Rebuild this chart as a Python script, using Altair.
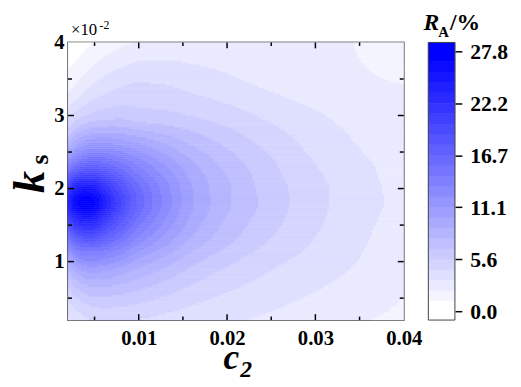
import altair as alt
import numpy as np
import pandas as pd

# ---- data ----
C2_NODES = [0.002, 0.003, 0.004, 0.005, 0.006, 0.008, 0.010, 0.013, 0.016, 0.020, 0.025, 0.030, 0.035, 0.040]
KS_NODES = [0.002, 0.006, 0.010, 0.013, 0.016, 0.018, 0.020, 0.023, 0.026, 0.030, 0.035, 0.040]

RA_KS002 = [3.2, 3.8, 4.2, 4.5, 4.6, 4.6, 4.4, 4.1, 3.8, 3.5, 3.1, 2.6, 2.3, 2.0]
RA_KS006 = [5.2, 6.3, 7.0, 7.3, 7.3, 7.0, 6.6, 5.9, 5.2, 4.5, 3.9, 3.35, 2.8, 2.3]
RA_KS010 = [9.0, 11.0, 12.0, 12.0, 11.8, 10.8, 9.6, 8.3, 7.0, 5.8, 4.7, 4.0, 3.3, 2.6]
RA_KS013 = [14.0, 17.0, 18.0, 18.0, 17.0, 15.0, 12.8, 10.6, 8.7, 7.0, 5.5, 4.4, 3.5, 2.8]
RA_KS016 = [20.0, 23.5, 24.5, 24.0, 22.0, 18.5, 15.5, 12.3, 9.8, 7.7, 6.0, 4.7, 3.7, 2.9]
RA_KS018 = [23.0, 26.5, 27.8, 26.8, 24.5, 20.0, 16.5, 13.0, 10.2, 8.0, 6.2, 4.8, 3.8, 3.0]
RA_KS020 = [20.5, 24.0, 25.0, 24.5, 22.5, 19.0, 16.0, 12.8, 10.1, 8.0, 6.1, 4.8, 3.75, 3.0]
RA_KS023 = [13.5, 16.0, 17.0, 17.2, 16.8, 15.2, 13.5, 11.3, 9.3, 7.5, 5.8, 4.5, 3.6, 2.9]
RA_KS026 = [8.3, 10.0, 11.0, 11.5, 11.5, 11.0, 10.2, 9.0, 7.8, 6.5, 5.2, 4.1, 3.3, 2.6]
RA_KS030 = [4.0, 5.0, 5.6, 6.0, 6.2, 6.4, 6.1, 5.9, 5.56, 5.0, 4.2, 3.5, 2.9, 2.4]
RA_KS035 = [1.5, 2.0, 2.6, 3.1, 3.5, 4.0, 4.3, 4.2, 3.9, 3.5, 3.0, 2.6, 2.3, 2.2]
RA_KS040 = [0.3, 0.6, 0.9, 1.2, 1.5, 2.0, 2.3, 2.6, 2.7, 2.7, 2.5, 2.4, 2.2, 2.0]

RA_GRID = [RA_KS002, RA_KS006, RA_KS010, RA_KS013, RA_KS016, RA_KS018,
           RA_KS020, RA_KS023, RA_KS026, RA_KS030, RA_KS035, RA_KS040]

X_LABEL_VALUES = [0.01, 0.02, 0.03, 0.04]
Y_LABEL_VALUES = [0.01, 0.02, 0.03, 0.04]
MAJOR_TICKS = [0.01, 0.02, 0.03]
MINOR_TICKS = [0.005, 0.015, 0.025, 0.035]
CBAR_TICKS = [0.0, 5.56, 11.12, 16.68, 22.24, 27.8]
RA_MAX = 27.8
N_LEVELS = 25

# ---- layout ----
W, H = 341, 282
DOM = [0.002, 0.04]
CB_X0, CB_X1 = 366, 393
CB_DOM = [-0.95, 28.75]
SERIF = "Liberation Serif"


# ---- filled-contour rendering of the grid (smooth piecewise-cubic surface) ----
def pchip(xn, yn, xq):
    xn = np.asarray(xn, float)
    yn = np.asarray(yn, float)
    h = np.diff(xn)
    d = np.diff(yn) / h
    n = len(xn)
    m = np.zeros(n)
    for k in range(1, n - 1):
        if d[k - 1] * d[k] > 0:
            w1 = 2 * h[k] + h[k - 1]
            w2 = h[k] + 2 * h[k - 1]
            m[k] = (w1 + w2) / (w1 / d[k - 1] + w2 / d[k])
    for k, (h0, h1, d0, d1) in ((0, (h[0], h[1], d[0], d[1])), (n - 1, (h[-1], h[-2], d[-1], d[-2]))):
        s = ((2 * h0 + h1) * d0 - h0 * d1) / (h0 + h1)
        if np.sign(s) != np.sign(d0):
            s = 0.0
        elif np.sign(d0) != np.sign(d1) and abs(s) > abs(3 * d0):
            s = 3 * d0
        m[k] = s
    idx = np.clip(np.searchsorted(xn, xq) - 1, 0, n - 2)
    t = (xq - xn[idx]) / h[idx]
    h00 = 2 * t ** 3 - 3 * t ** 2 + 1
    h10 = t ** 3 - 2 * t ** 2 + t
    h01 = -2 * t ** 3 + 3 * t ** 2
    h11 = t ** 3 - t ** 2
    return h00 * yn[idx] + h10 * h[idx] * m[idx] + h01 * yn[idx + 1] + h11 * h[idx] * m[idx + 1]


Z = np.array(RA_GRID)
nx, ny = 171, 141
xe = np.linspace(DOM[0], DOM[1], nx + 1)
ye = np.linspace(DOM[0], DOM[1], ny + 1)
xc = (xe[:-1] + xe[1:]) / 2
yc = (ye[:-1] + ye[1:]) / 2
zx = np.array([pchip(C2_NODES, row, xc) for row in Z])
zf = np.array([pchip(KS_NODES, zx[:, i], yc) for i in range(nx)]).T
step = RA_MAX / N_LEVELS
lev = np.clip(np.floor(zf / step), 0, N_LEVELS - 1).astype(int)


def level_color(i):
    f = i / (N_LEVELS - 1)
    c = int(round(255 * (1 - f)))
    return "#{:02x}{:02x}ff".format(c, c)


rows = []
for j in range(ny):
    start = 0
    for i in range(1, nx + 1):
        if i == nx or lev[j, i] != lev[j, start]:
            rows.append({"x0": xe[start], "x1": xe[i], "y0": ye[j], "y1": ye[j + 1],
                         "col": level_color(lev[j, start])})
            start = i
cells = pd.DataFrame(rows)

xs = alt.Scale(domain=DOM, nice=False, zero=False)
ys = alt.Scale(domain=DOM, nice=False, zero=False)
X_AXIS = alt.Axis(values=X_LABEL_VALUES, labelExpr="format(datum.value, '.2f')", title=None,
                  ticks=False, domain=False, grid=False, labelFont=SERIF,
                  labelFontWeight="bold", labelFontSize=21, labelColor="black",
                  labelPadding=8, labelFlush=False, orient="bottom")
Y_AXIS = alt.Axis(values=Y_LABEL_VALUES, labelExpr="format(datum.value * 100, '.0f')", title=None,
                  ticks=False, domain=False, grid=False, labelFont=SERIF,
                  labelFontWeight="bold", labelFontSize=21, labelColor="black",
                  labelPadding=4, labelFlush=False, orient="left")

heat = alt.Chart(cells).mark_rect(strokeWidth=0.6).encode(
    x=alt.X("x0:Q", scale=xs, axis=X_AXIS, title=None),
    x2="x1:Q",
    y=alt.Y("y0:Q", scale=ys, axis=Y_AXIS, title=None),
    y2="y1:Q",
    color=alt.Color("col:N", scale=None),
    stroke=alt.Color("col:N", scale=None),
)


def xticks(vals, length, top):
    d = pd.DataFrame({"x0": vals})
    y1, y2 = (0, length) if top else (H, H - length)
    return alt.Chart(d).mark_rule(color="black", strokeWidth=1.5).encode(
        x=alt.X("x0:Q", scale=xs, axis=X_AXIS, title=None), y=alt.value(y1), y2=alt.value(y2))


def yticks(vals, length, right):
    d = pd.DataFrame({"y0": vals})
    x1, x2 = (W, W - length) if right else (0, length)
    return alt.Chart(d).mark_rule(color="black", strokeWidth=1.5).encode(
        y=alt.Y("y0:Q", scale=ys, axis=Y_AXIS, title=None), x=alt.value(x1), x2=alt.value(x2))


def label(txt, x, y, size, weight="bold", style="normal", angle=0):
    return alt.Chart(pd.DataFrame({"t": [txt]})).mark_text(
        font=SERIF, fontSize=size, fontWeight=weight, fontStyle=style,
        angle=angle, align="left", baseline="alphabetic", color="black").encode(
        x=alt.value(x), y=alt.value(y), text="t:N")


main = alt.layer(
    heat,
    xticks(MAJOR_TICKS, 6, False), xticks(MINOR_TICKS, 3.5, False),
    xticks(MAJOR_TICKS, 6, True), xticks(MINOR_TICKS, 3.5, True),
    yticks(MAJOR_TICKS, 6, False), yticks(MINOR_TICKS, 4, False),
    yticks(MAJOR_TICKS, 6, True), yticks(MINOR_TICKS, 4, True),
)

# ---- colour bar ----
lo = [i * step for i in range(N_LEVELS)]
hi = [(i + 1) * step for i in range(N_LEVELS)]
lo[0] = CB_DOM[0]
hi[-1] = CB_DOM[1]
bands = pd.DataFrame({"lo": lo, "hi": hi, "col": [level_color(i) for i in range(N_LEVELS)]})
cb_scale = alt.Scale(domain=CB_DOM, nice=False, zero=False)
CB_AXIS = alt.Axis(orient="right", offset=CB_X1 - W, values=CBAR_TICKS, format=".1f",
                   domain=False, grid=False, tickSize=7, tickColor="black", tickWidth=1.5,
                   labelFont=SERIF, labelFontWeight="bold", labelFontSize=22,
                   labelColor="black", labelPadding=8, labelFlush=False, title=None)

cbar = alt.layer(
    alt.Chart(bands).mark_rect(strokeWidth=0.6).encode(
        y=alt.Y("lo:Q", scale=cb_scale, axis=CB_AXIS, title=None),
        y2="hi:Q",
        x=alt.value(CB_X0), x2=alt.value(CB_X1),
        color=alt.Color("col:N", scale=None),
        stroke=alt.Color("col:N", scale=None),
    ),
    alt.Chart(pd.DataFrame({"lo": [CB_DOM[0]], "hi": [CB_DOM[1]]})).mark_rect(
        fillOpacity=0, stroke="#444444", strokeWidth=1).encode(
        y=alt.Y("lo:Q", scale=cb_scale, axis=CB_AXIS, title=None),
        y2="hi:Q",
        x=alt.value(CB_X0), x2=alt.value(CB_X1),
    ),
)

texts = alt.layer(
    label("×10", 3, -8, 17, weight="normal"),
    label("-2", 32, -14, 12, weight="normal"),
    label("c", 158, 332, 36, style="italic"),
    label("2", 175, 340, 24, style="italic"),
    label("k", -24, 153, 45, style="italic", angle=270),
    label("s", -20, 124, 26, angle=270),
    label("R", 361, -13, 24, style="italic"),
    label("A", 376, -6, 15),
    label("/%", 388, -13, 24),
)

chart = alt.layer(main, cbar, texts).resolve_scale(y="independent").properties(
    width=W, height=H,
    view=alt.ViewBackground(stroke="black", strokeWidth=1.5),
    autosize=alt.AutoSizeParams(type="none"),
    padding={"left": 61, "top": 32, "right": 111, "bottom": 65},
).configure(background="white")

chart.save("out.html", embed_options={"renderer": "svg", "actions": False})
